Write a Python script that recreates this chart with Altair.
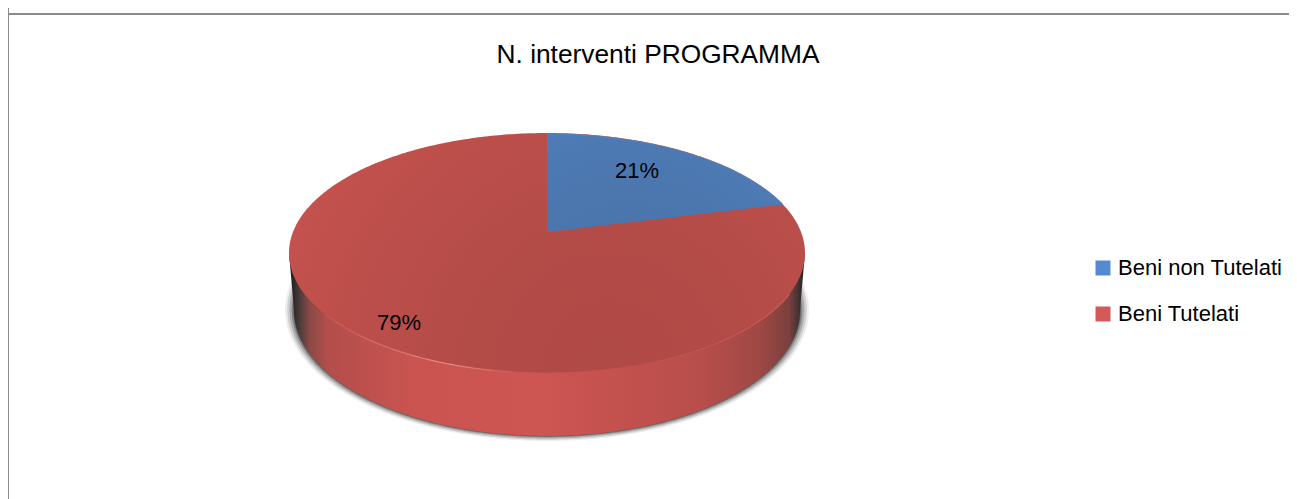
import numpy as np
import pandas as pd
import altair as alt

# --- content
TITLE = "N. interventi PROGRAMMA"
CATEGORIES = ["Beni non Tutelati", "Beni Tutelati"]
SHARES = [21, 79]
LEGEND_COLORS = ["#558ad0", "#d45a5a"]
LABEL_X = [637, 399]
LABEL_Y = [171, 323]
FONT = "Liberation Sans"

# --- pie geometry (reference pixel frame)
CX, APEX_Y = 547, 232
TOP_CY, TOP_RX, TOP_RY = 253, 258, 120
BOT_CY, BOT_RX, BOT_RY = 310, 253, 126
PERSP_K, PERSP_A, PERSP_B = -0.18, 254, 115.6
W, H = 1281, 491

XSCALE = alt.Scale(domain=[8, 8 + W], nice=False, zero=False)
YSCALE = alt.Scale(domain=[8 + H, 8], nice=False, zero=False)
X = alt.X("x:Q", axis=None, scale=XSCALE)
Y = alt.Y("y:Q", axis=None, scale=YSCALE)
Y2 = alt.Y2("y2:Q")


def ellipse(cx, cy, rx, ry, n=240):
    t = np.linspace(np.pi, 0, n)
    return pd.DataFrame({"x": cx + rx * np.cos(t),
                         "y": cy - ry * np.sin(t),
                         "y2": cy + ry * np.sin(t)})


def wedge(share):
    theta = np.linspace(0, share / 100 * 2 * np.pi, 80)
    u, v = np.sin(theta), -np.cos(theta)
    w = 1 + PERSP_K * v
    x = CX + PERSP_A * u / w
    y = APEX_Y + PERSP_B * v / w
    slope = (y[-1] - APEX_Y) / (x[-1] - CX)
    return pd.DataFrame({"x": x, "y": y, "y2": APEX_Y + (x - CX) * slope})


def side():
    t = np.linspace(np.pi, 0, 240)
    xs = CX + BOT_RX * np.cos(t)
    ys = BOT_CY + BOT_RY * np.sin(t)
    x = np.concatenate([[CX - TOP_RX], xs, [CX + TOP_RX]])
    y2 = np.concatenate([[TOP_CY], ys, [TOP_CY]])
    return pd.DataFrame({"x": x, "y": TOP_CY, "y2": y2})


def grad_h(stops):
    return alt.Gradient(gradient="linear", x1=0, x2=1, y1=0, y2=0,
                        stops=[alt.GradientStop(offset=o, color=c) for o, c in stops])


def grad_r(cx, cy, r, stops):
    return alt.Gradient(gradient="radial", x1=cx, y1=cy, x2=cx, y2=cy, r1=0, r2=r,
                        stops=[alt.GradientStop(offset=o, color=c) for o, c in stops])


layers = []

# frame
frame = pd.DataFrame({"x": [8], "y": [8], "x2": [8 + W], "y2": [8 + H], "yt": [14]})
layers.append(alt.Chart(frame).mark_rule(color="#8c8c8c", strokeWidth=2).encode(x=X, y=Y, y2=Y2))
layers.append(alt.Chart(frame).mark_rule(color="#8c8c8c", strokeWidth=2).encode(
    x=X, x2=alt.X2("x2:Q"), y=alt.Y("yt:Q", axis=None, scale=YSCALE)))

# soft shadow
for d, op in [(1.0, 0.08), (0.75, 0.14), (0.5, 0.20), (0.25, 0.30), (0.08, 0.40)]:
    sh = ellipse(CX, BOT_CY, BOT_RX + 9 * d, BOT_RY + 5 * d)
    layers.append(alt.Chart(sh).mark_area(color="#202020", opacity=op).encode(x=X, y=Y, y2=Y2))

# side wall
side_fill = grad_h([(0, "#1f1f1f"), (0.008, "#2a2626"), (0.02, "#4a3a3a"), (0.04, "#8a4a47"),
                    (0.075, "#b34e4b"), (0.25, "#cb5450"), (0.5, "#cd5552"), (0.68, "#c0504d"),
                    (0.795, "#b84e4b"), (0.913, "#9f4845"), (0.97, "#7a403d"),
                    (0.99, "#3a302f"), (1, "#1f1f1f")])
layers.append(alt.Chart(side()).mark_area(fill=side_fill).encode(x=X, y=Y, y2=Y2))

# top face, beni tutelati (whole ellipse, the other slice lies on it)
red_fill = grad_r(0.62, 0.72, 0.75, [(0, "#b04a46"), (0.35, "#b34b47"), (0.7, "#bd4f4b"), (1, "#c8534f")])
layers.append(alt.Chart(ellipse(CX, TOP_CY, TOP_RX, TOP_RY)).mark_area(fill=red_fill).encode(x=X, y=Y, y2=Y2))

# rim highlight
rim = ellipse(CX, TOP_CY, TOP_RX, TOP_RY)
rim = rim[(rim.x > 325) & (rim.x < 790)].assign(y=lambda d: d.y2)
rim_stroke = grad_h([(0, "#c8534f"), (0.1, "#d96a66"), (0.27, "#e58a85"), (0.42, "#c8534f"),
                     (0.7, "#c0504d"), (1, "#c85a56")])
layers.append(alt.Chart(rim).mark_line(stroke=rim_stroke, strokeWidth=1.2, clip=False).encode(x=X, y=Y))

# top face, beni non tutelati
blue_fill = grad_r(0.35, 1.0, 1.0, [(0, "#4a74ab"), (0.5, "#4b76ae"), (1, "#5280bd")])
blue = wedge(SHARES[0])
layers.append(alt.Chart(blue).mark_line(color="#5a82b8", strokeWidth=1.4).encode(x=X, y=Y))
layers.append(alt.Chart(blue).mark_area(fill=blue_fill).encode(x=X, y=Y, y2=Y2))

# data labels
labels = pd.DataFrame({"x": LABEL_X, "y": LABEL_Y, "t": [f"{s}%" for s in SHARES]})
layers.append(alt.Chart(labels).mark_text(font=FONT, fontSize=22, color="#000000",
                                          baseline="middle", align="center").encode(x=X, y=Y, text="t:N"))

# invisible marks that carry the legend
leg = pd.DataFrame({"x": [CX, CX], "y": [APEX_Y, APEX_Y], "cat": CATEGORIES})
layers.append(alt.Chart(leg).mark_square(opacity=0, size=1).encode(
    x=X, y=Y,
    color=alt.Color("cat:N",
                    scale=alt.Scale(domain=CATEGORIES, range=LEGEND_COLORS),
                    legend=alt.Legend(title=None, orient="none", legendX=1084, legendY=249,
                                      symbolType="square", symbolSize=225, symbolOpacity=1,
                                      symbolStrokeWidth=0, labelFont=FONT,
                                      labelFontSize=22, labelColor="#000000", labelOffset=4,
                                      rowPadding=24, labelLimit=300))))

chart = alt.layer(*layers).properties(
    width=W, height=H, padding=0, background="#ffffff",
    autosize=alt.AutoSizeParams(type="none"),
    title=alt.TitleParams(TITLE, anchor="middle", frame="group", font=FONT,
                          fontSize=26.3, fontWeight="normal", color="#000000",
                          baseline="alphabetic", dx=9.5, dy=86),
).configure_view(stroke=None)

chart.save("out.html", embed_options={"renderer": "svg", "actions": False})
